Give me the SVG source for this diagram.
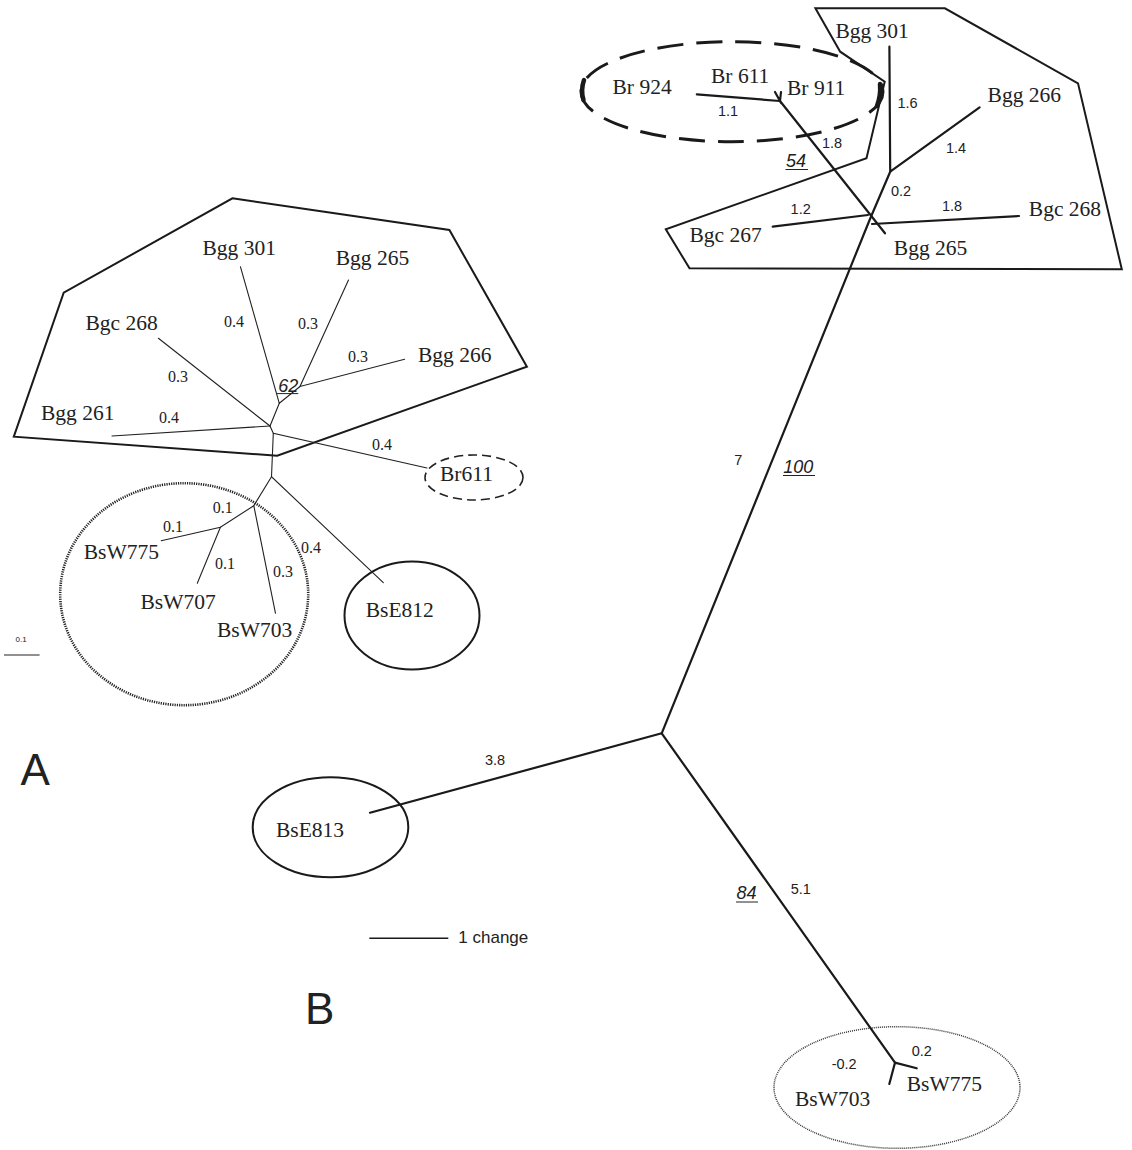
<svg xmlns="http://www.w3.org/2000/svg" width="1132" height="1150" viewBox="0 0 1132 1150">
<style>
.lab{font-family:"Liberation Serif","Times New Roman",serif;font-size:21.5px;fill:#222}
.numA{font-family:"Liberation Serif","Times New Roman",serif;font-size:16px;fill:#222}
.numB{font-family:"Liberation Sans",Arial,sans-serif;font-size:14.5px;fill:#222}
.boot{font-family:"Liberation Sans",Arial,sans-serif;font-size:18px;font-style:italic;fill:#222}
.big{font-family:"Liberation Sans",Arial,sans-serif;font-size:44px;fill:#222}
.brA{stroke:#222;stroke-width:1.1;fill:none;stroke-linecap:round}
.brB{stroke:#1a1a1a;stroke-width:2.2;fill:none;stroke-linecap:round}
.hull{stroke:#1a1a1a;stroke-width:2;fill:none;stroke-linejoin:miter}
.ul{stroke:#222;stroke-width:1}
</style>
<rect width="1132" height="1150" fill="#fff"/>

<!-- Tree A -->
<g id="A-groups">
<polygon id="A-hull" class="hull" points="232.4,198.3 449.4,230 526.9,366.7 277.2,455.7 13.8,436.7 63.7,292.7"/>
<ellipse id="A-br611-ring" cx="474" cy="477.5" rx="49" ry="22.5" fill="none" stroke="#222" stroke-width="1.6" stroke-dasharray="9 5"/>
<ellipse id="A-bse812-ring" cx="412" cy="615.5" rx="67.5" ry="54" fill="none" stroke="#1a1a1a" stroke-width="2"/>
<ellipse id="A-bsw-ring" cx="184.2" cy="594.2" rx="124" ry="111" fill="none" stroke="#222" stroke-width="2.6" stroke-dasharray="1.2 1.1"/>
</g>
<g id="A-connectors">
<polyline class="brA" points="348.5,280 300,386.5 404.6,359.3"/>
<polyline class="brA" points="240.4,266.7 279.3,403.3 300,386.5"/>
<polyline class="brA" points="279.3,403.3 270,426 158.4,338.3"/>
<polyline class="brA" points="270,426 112,436"/>
<polyline class="brA" points="270,426 273.3,433.3 427,468"/>
<polyline class="brA" points="273.3,433.3 271.5,476.7 383.3,582.7"/>
<polyline class="brA" points="271.5,476.7 253.8,505.7 275.5,613.3"/>
<polyline class="brA" points="253.8,505.7 220.4,527.3 161.2,540.7"/>
<polyline class="brA" points="220.4,527.3 197.3,583.3"/>
</g>
<g id="A-nodes">
<g id="A-bgg301"><text class="lab" x="202.5" y="255">Bgg 301</text></g>
<g id="A-bgg265"><text class="lab" x="335.7" y="265">Bgg 265</text></g>
<g id="A-bgc268"><text class="lab" x="85.4" y="330">Bgc 268</text></g>
<g id="A-bgg266"><text class="lab" x="418" y="361.7">Bgg 266</text></g>
<g id="A-bgg261"><text class="lab" x="41" y="420">Bgg 261</text></g>
<g id="A-br611"><text class="lab" x="440" y="480.7">Br611</text></g>
<g id="A-bsw775"><text class="lab" x="83.7" y="559.3">BsW775</text></g>
<g id="A-bsw707"><text class="lab" x="140.5" y="609.3">BsW707</text></g>
<g id="A-bsw703"><text class="lab" x="217" y="636.7">BsW703</text></g>
<g id="A-bse812"><text class="lab" x="365.7" y="616.7">BsE812</text></g>
</g>
<g id="A-labels">
<text class="numA" x="224" y="326.7">0.4</text>
<text class="numA" x="298" y="329">0.3</text>
<text class="numA" x="348" y="361.7">0.3</text>
<text class="numA" x="168" y="381.7">0.3</text>
<text class="numA" x="159" y="423.3">0.4</text>
<text class="numA" x="372" y="450">0.4</text>
<text class="numA" x="212.8" y="512.7">0.1</text>
<text class="numA" x="163" y="531.7">0.1</text>
<text class="numA" x="215" y="569.3">0.1</text>
<text class="numA" x="273" y="576.7">0.3</text>
<text class="numA" x="301" y="552.7">0.4</text>
<text class="boot" x="278.3" y="391.7" font-size="19">62</text>
<line class="ul" x1="276.7" y1="393.6" x2="298.3" y2="393.6"/>
<text x="15.5" y="641.7" font-family="Liberation Sans, Arial, sans-serif" font-size="8" fill="#222">0.1</text>
<line x1="4" y1="655" x2="39.6" y2="655" stroke="#222" stroke-width="1"/>
<text class="big" x="20.5" y="785">A</text>
</g>

<!-- Tree B -->
<g id="B-groups">
<polygon id="B-hull" class="hull" points="815.4,8.3 944.9,8.3 1078,83.3 1121.8,269.3 689.5,268.3 665.8,229.3 866.5,158.3 884.7,81.7 840.2,51.7"/>
<ellipse id="B-br-ring" cx="732" cy="91.7" rx="151" ry="50" fill="none" stroke="#1a1a1a" stroke-width="3" stroke-dasharray="26 13"/>
<path d="M584,80 Q580.5,90 583.5,100" fill="none" stroke="#1a1a1a" stroke-width="4.5" stroke-linecap="round"/>
<path d="M880,84 Q881,95 877,106" fill="none" stroke="#1a1a1a" stroke-width="4.5" stroke-linecap="round"/>
<ellipse id="B-bse813-ring" cx="330.5" cy="827.3" rx="77.8" ry="50" fill="none" stroke="#1a1a1a" stroke-width="2"/>
<ellipse id="B-bsw-ring" cx="897" cy="1087.5" rx="123" ry="60.8" fill="none" stroke="#333" stroke-width="1.5" stroke-dasharray="1 1"/>
</g>
<g id="B-connectors">
<polyline class="brB" points="889.4,46.7 890.2,171.7 979.6,107.3"/>
<polyline class="brB" points="890.2,171.7 870,219 661.7,733.3"/>
<line class="brB" x1="772.7" y1="226.7" x2="868" y2="215"/>
<line class="brB" x1="872" y1="224" x2="1019" y2="216"/>
<line class="brB" x1="780" y1="101" x2="885" y2="233.3"/>
<line class="brB" x1="696.8" y1="94.3" x2="780" y2="101"/>
<polyline class="brB" points="775,92 780,101 781,92"/>
<line class="brB" x1="661.7" y1="733.3" x2="370" y2="812.7"/>
<line class="brB" x1="661.7" y1="733.3" x2="895" y2="1062.7"/>
<polyline class="brB" points="916.7,1068.3 895,1062.7 889.3,1084"/>
</g>
<g id="B-nodes">
<g id="B-br924"><text class="lab" x="612.5" y="94.3">Br 924</text></g>
<g id="B-br611"><text class="lab" x="711" y="82.5">Br 611</text></g>
<g id="B-br911"><text class="lab" x="787" y="94.7">Br 911</text></g>
<g id="B-bgg301"><text class="lab" x="835.4" y="38.3">Bgg 301</text></g>
<g id="B-bgg266"><text class="lab" x="987.6" y="101.7">Bgg 266</text></g>
<g id="B-bgc268"><text class="lab" x="1028.8" y="216">Bgc 268</text></g>
<g id="B-bgc267"><text class="lab" x="689.5" y="241.7">Bgc 267</text></g>
<g id="B-bgg265"><text class="lab" x="893.8" y="255">Bgg 265</text></g>
<g id="B-bse813"><text class="lab" x="276" y="836.7">BsE813</text></g>
<g id="B-bsw775"><text class="lab" x="906.7" y="1090.7">BsW775</text></g>
<g id="B-bsw703"><text class="lab" x="795" y="1106">BsW703</text></g>
</g>
<g id="B-labels">
<text class="numB" x="718" y="116.3">1.1</text>
<text class="numB" x="897.5" y="108.3">1.6</text>
<text class="numB" x="946" y="153.3">1.4</text>
<text class="numB" x="822" y="148.3">1.8</text>
<text class="numB" x="891" y="196">0.2</text>
<text class="numB" x="790.6" y="214.3">1.2</text>
<text class="numB" x="942" y="211">1.8</text>
<text class="numB" x="734.3" y="465">7</text>
<text class="numB" x="485" y="765">3.8</text>
<text class="numB" x="790.7" y="894.3">5.1</text>
<text class="numB" x="911.7" y="1056">0.2</text>
<text class="numB" x="831.7" y="1069.3">-0.2</text>
<text class="boot" x="786" y="166.7" font-size="17">54</text>
<line class="ul" x1="785.5" y1="169.5" x2="808" y2="169.5"/>
<text class="boot" x="783.3" y="472.7">100</text>
<line class="ul" x1="783" y1="475.5" x2="815" y2="475.5"/>
<text class="boot" x="736.5" y="899" font-size="17">84</text>
<line class="ul" x1="736" y1="902" x2="758" y2="902"/>
<line x1="369.3" y1="938.3" x2="448.3" y2="938.3" stroke="#1a1a1a" stroke-width="1.6"/>
<text x="458.3" y="943.3" font-family="Liberation Sans, Arial, sans-serif" font-size="17" fill="#222">1 change</text>
<text class="big" x="305" y="1024">B</text>
</g>
</svg>
